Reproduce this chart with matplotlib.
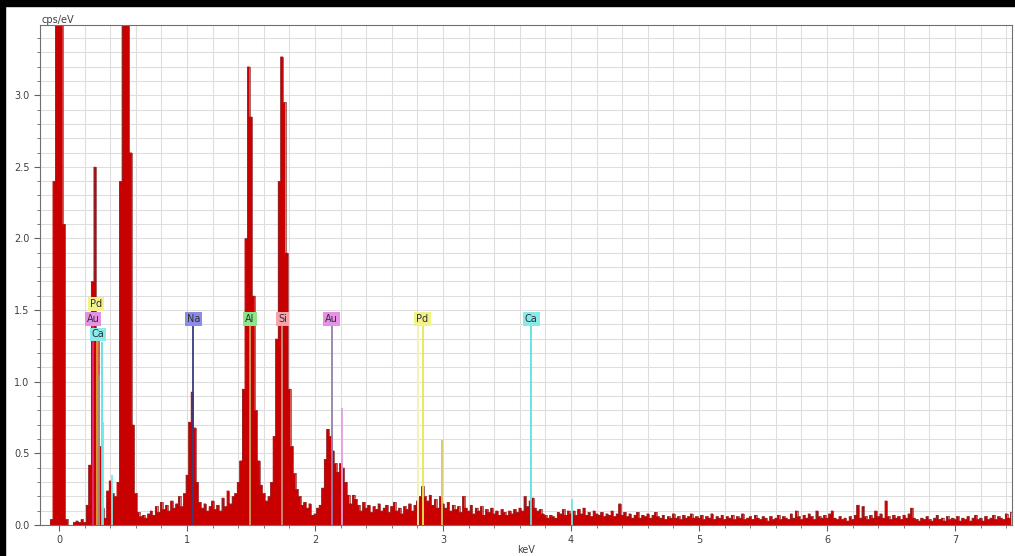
import numpy as np
import matplotlib
matplotlib.use("Agg")
import matplotlib.pyplot as plt
from matplotlib.ticker import MultipleLocator
from matplotlib.patches import Rectangle

# 能谱道能量标定: 起点与道宽 (keV)
e_start = -0.14
e_step = 0.02

# 各段计数 (cps/eV)，每段 1 keV
counts_neg = [0, 0, 0, 0, 0.04, 2.4, 4.8]
counts_0 = [5.2, 4.6, 2.1, 0.04, 0, 0, 0.02, 0.03, 0.02, 0.04,
            0.02, 0.14, 0.42, 1.7, 2.5, 1.3, 0.55, 0.12, 0.05, 0.24,
            0.31, 0.22, 0.2, 0.3, 2.4, 4.6, 5.0, 4.6, 2.6, 0.7,
            0.22, 0.09, 0.06, 0.07, 0.05, 0.08, 0.1, 0.07, 0.13, 0.09,
            0.16, 0.11, 0.14, 0.1, 0.17, 0.12, 0.15, 0.2, 0.13, 0.22]
counts_1 = [0.35, 0.72, 0.93, 0.68, 0.3, 0.16, 0.12, 0.15, 0.1, 0.13,
            0.17, 0.11, 0.14, 0.1, 0.19, 0.13, 0.24, 0.15, 0.2, 0.22,
            0.3, 0.45, 0.95, 2.0, 3.2, 2.85, 1.6, 0.8, 0.45, 0.28,
            0.22, 0.17, 0.2, 0.3, 0.62, 1.3, 2.4, 3.27, 2.95, 1.9,
            0.95, 0.55, 0.36, 0.25, 0.2, 0.14, 0.16, 0.12, 0.15, 0.07]
counts_2 = [0.08, 0.12, 0.14, 0.26, 0.46, 0.67, 0.62, 0.52, 0.43, 0.37,
            0.43, 0.4, 0.3, 0.21, 0.15, 0.21, 0.18, 0.14, 0.1, 0.16,
            0.12, 0.14, 0.09, 0.13, 0.11, 0.15, 0.1, 0.12, 0.14, 0.09,
            0.13, 0.16, 0.1, 0.12, 0.08, 0.13, 0.11, 0.15, 0.1, 0.14,
            0.17, 0.2, 0.27, 0.2, 0.17, 0.21, 0.14, 0.18, 0.12, 0.2]
counts_3 = [0.15, 0.12, 0.16, 0.1, 0.14, 0.11, 0.13, 0.09, 0.2, 0.12,
            0.1, 0.14, 0.08, 0.12, 0.1, 0.13, 0.07, 0.11, 0.09, 0.12,
            0.08, 0.1, 0.07, 0.11, 0.09, 0.07, 0.1, 0.08, 0.11, 0.09,
            0.12, 0.1, 0.2, 0.13, 0.17, 0.19, 0.12, 0.1, 0.11, 0.08,
            0.07, 0.05, 0.07, 0.06, 0.05, 0.09, 0.08, 0.11, 0.07, 0.1]
counts_4 = [0.08, 0.1, 0.07, 0.11, 0.08, 0.12, 0.07, 0.09, 0.06, 0.1,
            0.08, 0.07, 0.09, 0.06, 0.08, 0.07, 0.1, 0.06, 0.08, 0.15,
            0.07, 0.09, 0.06, 0.08, 0.05, 0.07, 0.09, 0.05, 0.07, 0.06,
            0.08, 0.05, 0.07, 0.09, 0.06, 0.05, 0.07, 0.04, 0.06, 0.05,
            0.08, 0.05, 0.06, 0.04, 0.07, 0.05, 0.06, 0.08, 0.05, 0.06]
counts_5 = [0.05, 0.07, 0.04, 0.06, 0.05, 0.08, 0.04, 0.06, 0.05, 0.07,
            0.04, 0.06, 0.05, 0.07, 0.04, 0.06, 0.05, 0.08, 0.04, 0.05,
            0.06, 0.04, 0.07, 0.05, 0.04, 0.06, 0.05, 0.03, 0.06, 0.04,
            0.05, 0.07, 0.04, 0.06, 0.05, 0.04, 0.08, 0.05, 0.1, 0.06,
            0.04, 0.07, 0.05, 0.08, 0.06, 0.04, 0.1, 0.06, 0.05, 0.07]
counts_6 = [0.05, 0.08, 0.1, 0.05, 0.04, 0.06, 0.04, 0.05, 0.03, 0.06,
            0.04, 0.07, 0.14, 0.05, 0.13, 0.06, 0.04, 0.07, 0.05, 0.1,
            0.06, 0.08, 0.05, 0.17, 0.06, 0.04, 0.07, 0.05, 0.06, 0.04,
            0.07, 0.05, 0.08, 0.12, 0.05, 0.04, 0.03, 0.05, 0.04, 0.06,
            0.04, 0.03, 0.05, 0.07, 0.04, 0.05, 0.03, 0.06, 0.04, 0.05]
counts_7 = [0.04, 0.06, 0.03, 0.05, 0.04, 0.06, 0.03, 0.05, 0.07, 0.04,
            0.05, 0.03, 0.06, 0.04, 0.05, 0.07, 0.04, 0.06, 0.05, 0.04,
            0.08, 0.05, 0.09]

# 元素谱线标记 (能量 keV, 线顶高度, 颜色)
line_energy = [0.268, 0.294, 0.315, 0.333, 0.345, 0.412,
               1.049, 1.492, 1.745, 2.130, 2.208, 2.807, 2.840, 2.995, 3.690, 4.010]
line_top = [1.40, 1.30, 1.05, 1.28, 0.72, 0.35,
            1.39, 1.39, 1.39, 1.39, 0.82, 1.39, 1.39, 0.59, 1.39, 0.18]
line_color = ['#e0307a', '#e0a030', '#a09080', '#60e0e0', '#70e8e8', '#80e8e8',
              '#3a3a80', '#c8a060', '#c89080', '#9080b0', '#e0a0e0', '#f4f4b0',
              '#e8e850', '#d8c860', '#60e0e0', '#70e8e8']

# 元素标签
label_text = ['Pd', 'Au', 'Ca', 'Na', 'Al', 'Si', 'Au', 'Pd', 'Ca']
label_energy = [0.289, 0.266, 0.305, 1.049, 1.492, 1.745, 2.130, 2.840, 3.690]
label_y = [1.54, 1.44, 1.33, 1.44, 1.44, 1.44, 1.44, 1.44, 1.44]
label_color = ['#f2f28a', '#e890e8', '#88eaea', '#8c8ce8', '#88e888', '#f2a4ac',
               '#e890e8', '#f2f28a', '#88eaea']

counts = np.array(counts_neg + counts_0 + counts_1 + counts_2 + counts_3
                  + counts_4 + counts_5 + counts_6 + counts_7)
energy = e_start + e_step * np.arange(len(counts))

fig = plt.figure(figsize=(10.15, 5.56), dpi=100)
ax = fig.add_axes([40 / 1015, 31 / 556, 972 / 1015, 500 / 556])

ax.fill_between(energy, 0, counts, step='mid', color='#c80000', lw=0, zorder=2)
ax.step(energy, counts, where='mid', color='#8a2a2a', lw=0.5, zorder=2)

ax.vlines(line_energy, 0, line_top, colors=line_color, lw=1.3, zorder=3)
for t, x, y, c in zip(label_text, label_energy, label_y, label_color):
    ax.text(x, y, t, ha='center', va='center', fontsize=7, color='#303030', zorder=4,
            bbox=dict(boxstyle='square,pad=0.2', fc=c, ec='none'))

ax.set_xlim(-0.148, 7.445)
ax.set_ylim(0, 3.49)
ax.xaxis.set_major_locator(MultipleLocator(1))
ax.xaxis.set_minor_locator(MultipleLocator(0.2))
ax.yaxis.set_major_locator(MultipleLocator(0.5))
ax.yaxis.set_minor_locator(MultipleLocator(0.1))
ax.grid(True, which='both', color='#dedede', lw=0.8, zorder=0)
ax.set_axisbelow(True)
ax.tick_params(which='both', direction='out', color='#606060', labelsize=7, labelcolor='#404040')
ax.tick_params(which='major', length=4)
ax.tick_params(which='minor', length=2)
for s in ax.spines.values():
    s.set_color('#707070')

fig.text(42 / 1015, 1 - 20 / 556, 'cps/eV', fontsize=7, color='#404040', va='center')
fig.text(526 / 1015, 1 - 550 / 556, 'keV', fontsize=7, color='#404040', ha='center', va='center')

# 截图留下的黑边
fig.patches.append(Rectangle((0, 1 - 6 / 556), 1, 6 / 556, transform=fig.transFigure, color='black', zorder=10))
fig.patches.append(Rectangle((0, 0), 5 / 1015, 1, transform=fig.transFigure, color='black', zorder=10))

fig.savefig('out.png', dpi=100)
